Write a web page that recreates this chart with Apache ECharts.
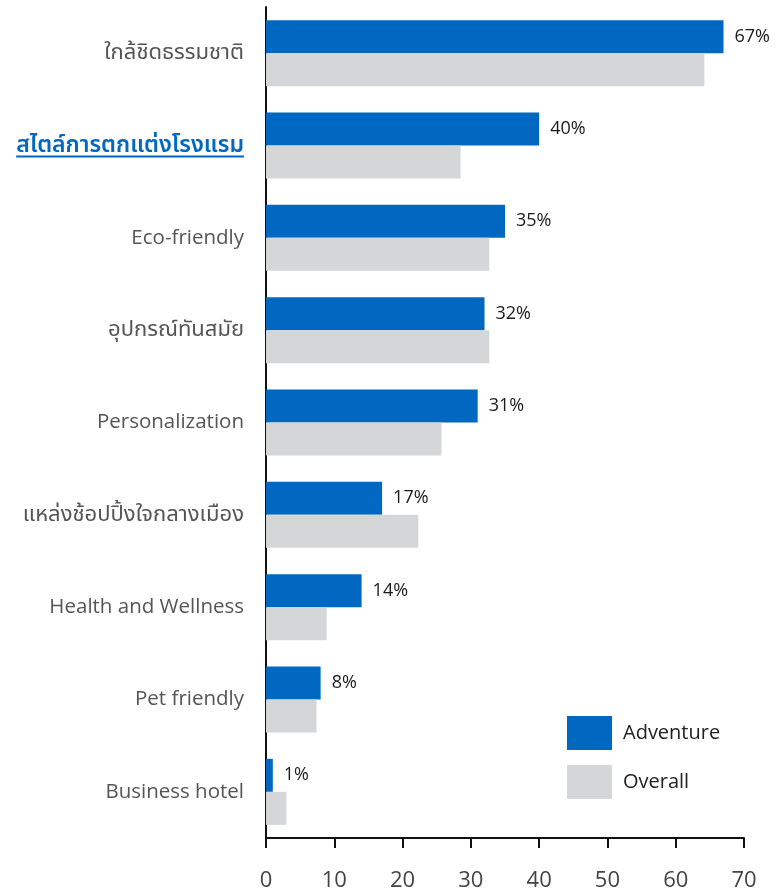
<!DOCTYPE html>
<html>
<head>
<meta charset="utf-8">
<script src="https://cdn.jsdelivr.net/npm/echarts@6/dist/echarts.min.js"></script>
<style>
  html, body { margin: 0; padding: 0; background: #ffffff; }
  #chart { width: 776px; height: 892px; }
</style>
</head>
<body>
<div id="chart"></div>
<script>
// Hotel features: share of Adventure travellers vs. all travellers
const categories = [
  'ใกล้ชิดธรรมชาติ',
  'สไตล์การตกแต่งโรงแรม',
  'Eco-friendly',
  'อุปกรณ์ทันสมัย',
  'Personalization',
  'แหล่งช้อปปิ้งใจกลางเมือง',
  'Health and Wellness',
  'Pet friendly',
  'Business hotel'
];
const adventure = [67, 40, 35, 32, 31, 17, 14, 8, 1];
const overall = [64.2, 28.5, 32.7, 32.7, 25.7, 22.3, 8.9, 7.4, 3.0];
const xTicks = [0, 10, 20, 30, 40, 50, 60, 70];
const highlighted = 'สไตล์การตกแต่งโรงแรม';

const FONT = '"Open Sans", "Noto Sans", "Noto Sans Thai", sans-serif';
const BLUE = '#0068c0';
const GREY = '#d5d6d8';
const THAI = /[\u0E00-\u0E7F]/;

const chart = echarts.init(document.getElementById('chart'), null, { renderer: 'canvas' });

chart.setOption({
  animation: false,
  backgroundColor: '#ffffff',
  grid: { left: 266, right: 32, top: 7, bottom: 54, containLabel: false },
  legend: {
    orient: 'vertical',
    left: 562,
    top: 711,
    itemWidth: 45,
    itemHeight: 34,
    itemGap: 15,
    icon: 'rect',
    textStyle: { fontFamily: FONT, fontSize: 20, color: '#222222', padding: [0, 0, 0, 6] },
    data: ['Adventure', 'Overall']
  },
  xAxis: {
    type: 'value',
    min: xTicks[0],
    max: xTicks[xTicks.length - 1],
    interval: 10,
    axisLine: { show: true, lineStyle: { color: '#111111', width: 2 } },
    axisTick: { show: true, length: 10, lineStyle: { color: '#111111', width: 2 } },
    splitLine: { show: false },
    axisLabel: { fontFamily: FONT, fontSize: 22, color: '#444444', margin: 32 }
  },
  yAxis: {
    type: 'category',
    data: categories,
    inverse: true,
    axisLine: { show: true, lineStyle: { color: '#111111', width: 2 } },
    axisTick: { show: false },
    axisLabel: {
      margin: 22,
      fontFamily: FONT,
      fontSize: 20.5,
      color: '#555555',
      formatter: function (v) {
        if (v === highlighted) return '{hl|' + v + '}';
        if (THAI.test(v)) return '{th|' + v + '}';
        return v;
      },
      rich: {
        hl: { fontFamily: FONT, fontSize: 23, fontWeight: 600, color: BLUE },
        th: { fontFamily: FONT, fontSize: 22, color: '#555555' }
      }
    }
  },
  series: [
    {
      name: 'Adventure',
      type: 'bar',
      data: adventure,
      barGap: '0%',
      barCategoryGap: '28.5%',
      itemStyle: { color: BLUE },
      label: {
        show: true,
        position: 'right',
        distance: 11,
        fontFamily: FONT,
        fontSize: 18,
        color: '#1a1a1a',
        formatter: '{c}%'
      }
    },
    {
      name: 'Overall',
      type: 'bar',
      data: overall,
      barGap: '0%',
      barCategoryGap: '28.5%',
      itemStyle: { color: GREY }
    }
  ]
});

// Underline under the highlighted category label, placed from the axis scale
function drawUnderline() {
  const idx = categories.indexOf(highlighted);
  const p = chart.convertToPixel({ yAxisIndex: 0 }, idx);
  const x0 = chart.convertToPixel({ xAxisIndex: 0 }, 0);
  const ctx = document.createElement('canvas').getContext('2d');
  ctx.font = '600 23px ' + FONT;
  const w = ctx.measureText(highlighted).width;
  const right = x0 - 22;
  chart.setOption({
    graphic: [{
      type: 'line',
      shape: { x1: right - w, y1: p + 11, x2: right, y2: p + 11 },
      style: { stroke: BLUE, lineWidth: 2 },
      silent: true
    }]
  });
}
drawUnderline();
</script>
</body>
</html>
